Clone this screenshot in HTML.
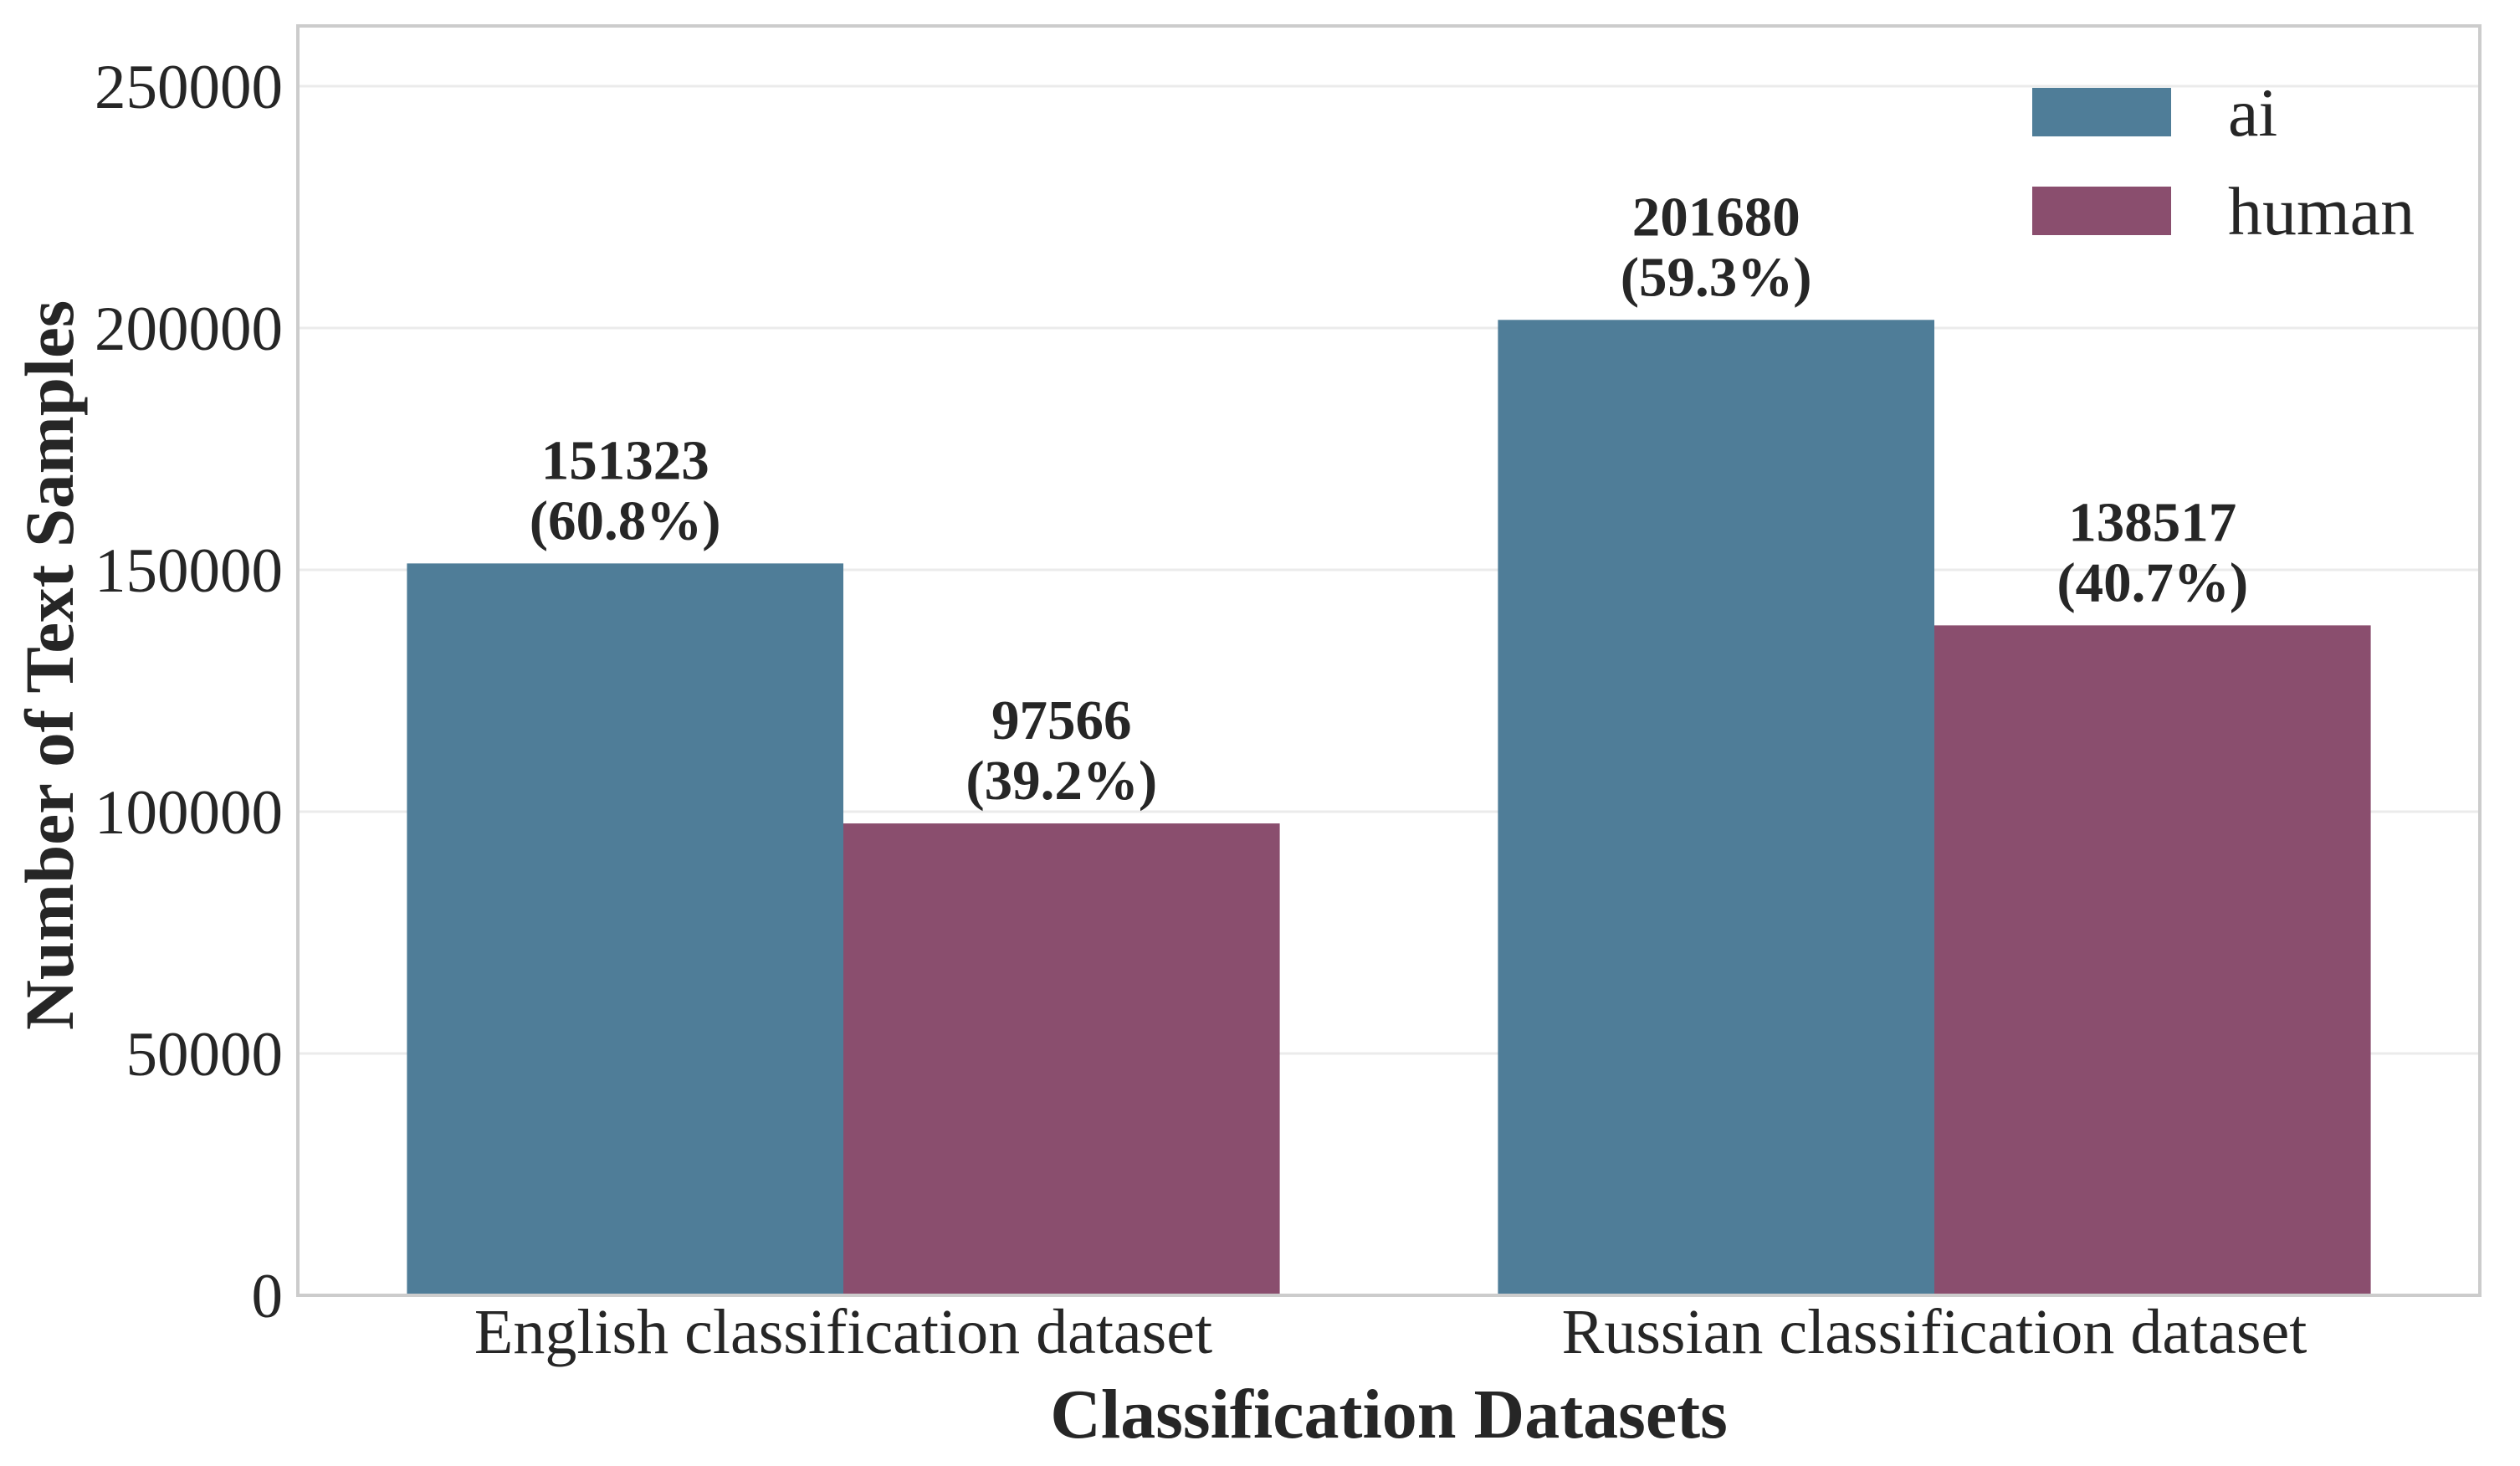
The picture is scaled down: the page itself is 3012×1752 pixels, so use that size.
<!DOCTYPE html>
<html><head><meta charset="utf-8"><style>
html,body{margin:0;padding:0;background:#fff;}
svg{display:block;font-family:"Liberation Serif",serif;}
</style></head><body>
<svg id="chart" width="3012" height="1752" viewBox="0 0 3012 1752" xmlns="http://www.w3.org/2000/svg">
<rect x="0" y="0" width="3012" height="1752" fill="#fff"/>
<g id="grid"></g>
<g id="bars"></g>
<g id="labels"></g>
<rect x="356" y="31" width="2608" height="1517" fill="none" stroke="#cccccc" stroke-width="4"/>
<g id="yticks"></g>
<g id="xticks"></g>
<text x="87" y="795" transform="rotate(-90 87 795)" text-anchor="middle" font-size="83" font-weight="bold" fill="#262626">Number of Text Samples</text>
<text x="1660" y="1718" text-anchor="middle" font-size="84" font-weight="bold" fill="#262626">Classification Datasets</text>
<g>
<g>
<rect x="2429" y="105" width="166" height="58" fill="#4f7d98"/>
<text x="2663" y="162" font-size="82" fill="#262626">ai</text>
</g>
<g>
<rect x="2429" y="223" width="166" height="58" fill="#8a4e6e"/>
<text x="2663" y="280" font-size="82" fill="#262626">human</text>
</g>
</g>
</svg>
<script>
const categories = ["English classification dataset", "Russian classification dataset"];
const seriesNames = ["ai", "human"];
const aiValues = [151323, 201680];
const humanValues = [97566, 138517];
const aiPct = ["60.8%", "59.3%"];
const humanPct = ["39.2%", "40.7%"];
const yTicks = [0, 50000, 100000, 150000, 200000, 250000];

const NS = "http://www.w3.org/2000/svg";
const X0 = 356, X1 = 2964, Y0 = 1548, YTOP = 31;
const PX_PER_UNIT = 289 / 50000;
function yScale(v){ return Y0 - v * PX_PER_UNIT; }
const catW = (X1 - X0) / categories.length;
function xCenter(i){ return X0 + catW * (i + 0.5); }
const barW = catW * 0.4;
const colors = ["#4f7d98", "#8a4e6e"];

function mk(tag, attrs, parent){
  const el = document.createElementNS(NS, tag);
  for (const k in attrs) el.setAttribute(k, attrs[k]);
  parent.appendChild(el);
  return el;
}
const grid = document.getElementById("grid");
const yt = document.getElementById("yticks");
yTicks.forEach(t => {
  const y = yScale(t);
  if (t > 0) {
    const ln = mk("line", {x1: X0, x2: X1, y1: y, y2: y, stroke: "#ebebeb", "stroke-width": 3}, grid);
    
    
  }
  const tx = mk("text", {x: 338, y: y + 26, "text-anchor": "end", "font-size": 75, fill: "#262626"}, yt);
  tx.textContent = String(t);
  
  
});
const xt = document.getElementById("xticks");
categories.forEach((c, i) => {
  const tx = mk("text", {x: xCenter(i), y: 1617, "text-anchor": "middle", "font-size": 76, fill: "#262626"}, xt);
  tx.textContent = c;
  
  
});
const bars = document.getElementById("bars");
const labels = document.getElementById("labels");
const allVals = [aiValues, humanValues];
const allPct = [aiPct, humanPct];
categories.forEach((c, i) => {
  allVals.forEach((vals, s) => {
    const v = vals[i];
    const x = xCenter(i) - barW + s * barW;
    const top = yScale(v);
    const r = mk("rect", {x: x, y: top, width: barW, height: Y0 - top, fill: colors[s]}, bars);
    
    
    const cx = x + barW / 2;
    const t1 = mk("text", {x: cx, y: top - 101, "text-anchor": "middle", "font-size": 67, "font-weight": "bold", fill: "#262626"}, labels);
    t1.textContent = String(v);
    
    
    const t2 = mk("text", {x: cx, y: top - 29, "text-anchor": "middle", "font-size": 67, "font-weight": "bold", fill: "#262626"}, labels);
    t2.textContent = "(" + allPct[s][i] + ")";
    
    
  });
});
</script>
</body></html>
